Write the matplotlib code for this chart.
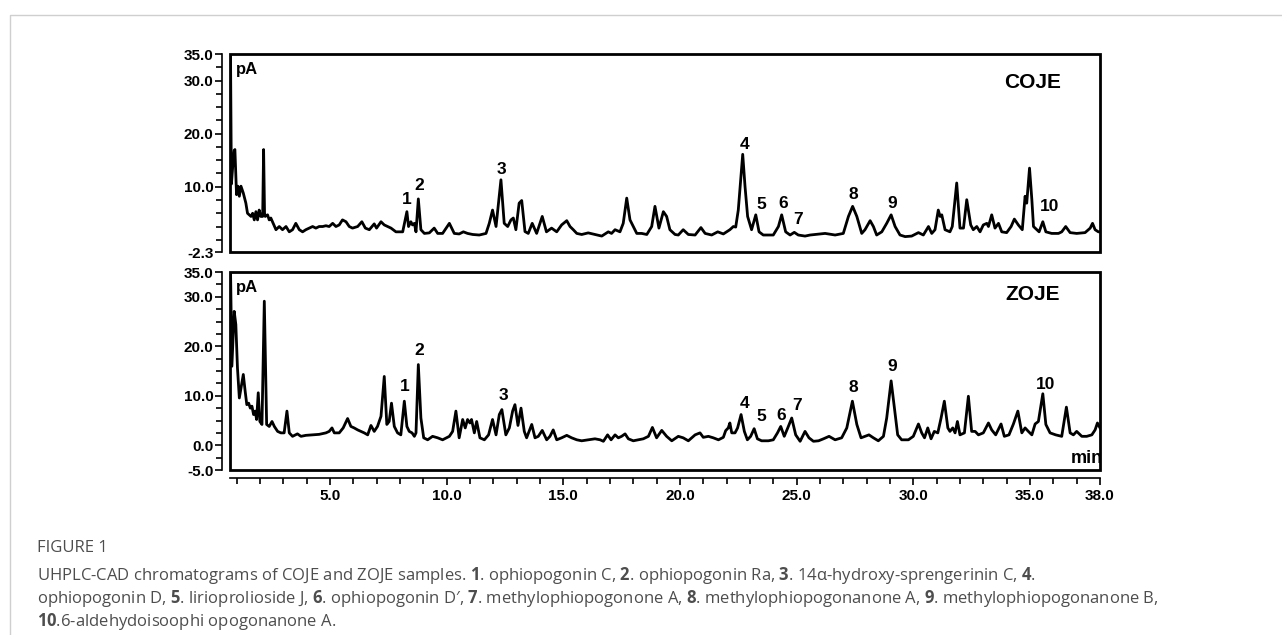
import matplotlib.pyplot as plt
import matplotlib.ticker as mticker
from matplotlib.patches import Rectangle
from matplotlib.lines import Line2D
import numpy as np

plt.rcParams['font.family'] = ['Liberation Sans', 'DejaVu Sans']
plt.rcParams['font.weight'] = 'bold'
plt.rcParams['mathtext.fontset'] = 'custom'
plt.rcParams['mathtext.rm'] = 'Open Sans'
plt.rcParams['mathtext.bf'] = 'Open Sans:bold'

# COJE trace (retention time in min, signal in pA)
coje_t = [0.74, 0.78, 0.84, 0.90, 0.93, 0.97, 1.00, 1.06, 1.12, 1.19, 1.29, 1.40, 1.47,
          1.62, 1.69, 1.76, 1.83, 1.90, 1.97, 2.04, 2.12, 2.16, 2.20, 2.23, 2.33, 2.40,
          2.47, 2.54, 2.69, 2.83, 2.97, 3.12, 3.26, 3.40, 3.54, 3.69, 3.83, 3.97, 4.12,
          4.26, 4.40, 4.54, 4.69, 4.83, 4.97, 5.12, 5.26, 5.40, 5.54, 5.69, 5.83, 5.97,
          6.19, 6.37, 6.52, 6.69, 6.90, 7.00, 7.19, 7.33, 7.47, 7.62, 7.83, 8.12, 8.30,
          8.37, 8.47, 8.54, 8.62, 8.69, 8.79, 8.90, 9.05, 9.26, 9.47, 9.62, 9.83, 10.12,
          10.33, 10.54, 10.72, 10.90, 11.12, 11.40, 11.69, 11.83, 11.97, 12.12, 12.33,
          12.47, 12.62, 12.76, 12.86, 12.97, 13.11, 13.22, 13.36, 13.50, 13.67, 13.86,
          14.10, 14.28, 14.50, 14.72, 14.93, 15.15, 15.29, 15.43, 15.58, 15.79, 16.07,
          16.36, 16.65, 16.93, 17.07, 17.22, 17.43, 17.57, 17.72, 17.86, 18.00, 18.15,
          18.36, 18.58, 18.79, 18.93, 19.10, 19.29, 19.43, 19.57, 19.79, 19.93, 20.14,
          20.36, 20.65, 20.90, 21.08, 21.36, 21.62, 21.86, 22.14, 22.29, 22.39, 22.50,
          22.69, 22.79, 22.90, 23.07, 23.25, 23.39, 23.57, 23.79, 24.00, 24.22, 24.36,
          24.53, 24.72, 24.90, 25.07, 25.36, 25.58, 25.79, 26.22, 26.65, 27.00, 27.22,
          27.40, 27.58, 27.79, 27.93, 28.15, 28.29, 28.43, 28.65, 28.86, 29.05, 29.22,
          29.43, 29.65, 29.93, 30.22, 30.43, 30.65, 30.79, 30.93, 31.07, 31.15, 31.22,
          31.36, 31.57, 31.67, 31.86, 32.00, 32.15, 32.29, 32.46, 32.57, 32.72, 32.86,
          33.00, 33.15, 33.22, 33.36, 33.50, 33.65, 33.79, 34.00, 34.19, 34.33, 34.50,
          34.67, 34.79, 34.86, 34.98, 35.08, 35.15, 35.29, 35.39, 35.55, 35.68, 35.93,
          36.22, 36.36, 36.53, 36.72, 37.00, 37.36, 37.58, 37.68, 37.79, 37.93, 38.00]
coje_pa = [36.5, 10.5, 14.0, 16.8, 17.0, 12.0, 8.5, 10.1, 8.2, 10.1, 8.8, 6.9, 5.0,
           4.4, 5.0, 3.75, 5.3, 3.75, 5.6, 4.4, 4.4, 17.0, 5.0, 4.4, 4.7, 3.75,
           4.1, 3.4, 1.9, 2.5, 1.9, 2.5, 1.5, 1.9, 3.1, 1.9, 1.5, 1.9, 2.2,
           2.5, 2.2, 2.5, 2.5, 2.65, 2.5, 3.1, 2.5, 2.8, 3.75, 3.4, 2.5, 2.2,
           2.5, 3.4, 2.2, 1.9, 3.0, 2.2, 3.4, 2.8, 2.5, 2.2, 1.5, 1.5, 5.3,
           2.5, 3.4, 2.8, 3.1, 1.5, 7.7, 1.9, 1.2, 1.3, 2.2, 1.2, 1.2, 3.1,
           1.2, 1.1, 1.5, 1.2, 1.0, 0.9, 1.2, 3.1, 5.6, 2.5, 11.3,
           3.1, 2.5, 3.75, 4.1, 1.9, 6.9, 7.4, 1.55, 1.2, 3.1, 1.2,
           4.4, 1.5, 2.2, 1.5, 2.8, 3.6, 2.5, 1.9, 1.2, 1.0, 1.3,
           1.0, 0.7, 1.5, 1.2, 1.9, 1.5, 3.1, 7.85, 3.75, 2.5, 1.2,
           1.2, 1.0, 2.5, 6.3, 2.2, 5.3, 4.4, 1.9, 1.0, 0.9, 1.9,
           1.0, 0.9, 2.3, 1.2, 0.9, 1.5, 1.1, 1.9, 2.5, 2.4, 5.6,
           16.1, 10.0, 4.4, 1.9, 4.7, 1.5, 0.9, 0.9, 0.9, 2.5, 4.7,
           1.5, 0.9, 1.4, 0.9, 0.7, 0.9, 1.0, 1.2, 0.9, 1.2, 4.4,
           6.3, 4.4, 1.2, 1.9, 3.6, 2.5, 0.9, 1.5, 3.1, 4.7, 2.5,
           0.9, 0.6, 0.7, 1.35, 0.9, 2.5, 1.2, 1.9, 5.6, 4.4, 4.7,
           1.9, 1.5, 2.5, 10.7, 2.2, 2.2, 7.55, 2.8, 1.9, 2.5, 1.5,
           2.8, 3.1, 2.5, 4.7, 2.2, 3.1, 1.5, 1.35, 2.5, 3.9, 2.8,
           1.9, 8.2, 6.9, 13.5, 7.55, 2.5, 1.9, 1.5, 3.4, 1.5, 1.2,
           1.2, 1.5, 2.5, 1.35, 1.2, 1.35, 2.2, 3.1, 1.9, 1.5, 1.5]

# ZOJE trace
zoje_t = [0.74, 0.80, 0.90, 0.97, 1.04, 1.12, 1.19, 1.29, 1.37, 1.44, 1.52, 1.59, 1.66,
          1.73, 1.80, 1.86, 1.93, 2.00, 2.09, 2.19, 2.29, 2.40, 2.52, 2.62, 2.76, 2.90,
          3.04, 3.16, 3.26, 3.40, 3.61, 3.76, 3.97, 4.26, 4.54, 4.83, 4.97, 5.09, 5.19,
          5.40, 5.57, 5.76, 5.90, 6.04, 6.19, 6.33, 6.47, 6.62, 6.76, 6.90, 7.04, 7.19,
          7.33, 7.44, 7.54, 7.64, 7.76, 7.90, 8.04, 8.19, 8.30, 8.40, 8.52, 8.62, 8.69,
          8.79, 8.90, 9.02, 9.19, 9.40, 9.62, 9.83, 10.12, 10.26, 10.40, 10.54, 10.69,
          10.80, 10.90, 11.00, 11.07, 11.19, 11.29, 11.43, 11.62, 11.80, 11.97, 12.12,
          12.26, 12.37, 12.54, 12.69, 12.83, 12.93, 13.06, 13.19, 13.33, 13.43, 13.65,
          13.79, 13.93, 14.10, 14.29, 14.43, 14.57, 14.72, 14.93, 15.15, 15.36, 15.58,
          15.79, 16.07, 16.36, 16.58, 16.72, 16.90, 17.05, 17.22, 17.36, 17.50, 17.65,
          17.79, 18.00, 18.22, 18.43, 18.65, 18.82, 19.00, 19.22, 19.43, 19.65, 19.93,
          20.14, 20.36, 20.65, 20.86, 21.00, 21.22, 21.43, 21.65, 21.86, 21.96, 22.07,
          22.14, 22.22, 22.36, 22.47, 22.62, 22.76, 22.89, 23.03, 23.18, 23.32, 23.50,
          23.79, 24.00, 24.18, 24.32, 24.47, 24.62, 24.79, 24.96, 25.15, 25.36, 25.53,
          25.72, 25.94, 26.15, 26.39, 26.65, 26.93, 27.15, 27.39, 27.58, 27.76, 27.93,
          28.10, 28.29, 28.50, 28.72, 28.86, 29.05, 29.19, 29.33, 29.50, 29.79, 30.00,
          30.22, 30.36, 30.48, 30.62, 30.76, 30.90, 31.05, 31.19, 31.33, 31.48, 31.57,
          31.69, 31.79, 31.89, 32.00, 32.19, 32.36, 32.50, 32.65, 32.79, 33.00, 33.22,
          33.36, 33.53, 33.76, 33.90, 34.10, 34.29, 34.48, 34.65, 34.79, 34.93, 35.08,
          35.22, 35.36, 35.55, 35.68, 35.86, 36.10, 36.36, 36.56, 36.72, 36.86, 37.00,
          37.22, 37.43, 37.65, 37.79, 37.89, 38.00]
zoje_pa = [36.5, 15.95, 27.05, 24.4, 15.6, 9.55, 11.5, 14.3, 10.9, 8.2, 8.5, 7.5, 7.9,
           6.2, 6.9, 5.2, 10.6, 4.8, 4.2, 29.1, 4.2, 3.8, 4.8, 3.8, 2.8, 2.5,
           2.5, 6.9, 2.5, 1.8, 2.3, 1.8, 2.0, 2.1, 2.2, 2.5, 2.8, 3.5, 2.5,
           2.5, 3.5, 5.4, 3.8, 3.5, 3.1, 2.8, 2.5, 2.1, 4.0, 2.8, 3.8, 5.85,
           13.9, 4.2, 4.8, 8.5, 3.8, 2.5, 2.1, 8.9, 3.8, 2.8, 2.5, 1.8, 2.5,
           16.3, 5.5, 1.5, 1.1, 1.8, 1.5, 1.1, 1.8, 2.8, 6.9, 1.5, 5.2,
           3.5, 5.2, 4.5, 5.2, 2.5, 4.8, 1.5, 1.1, 2.1, 5.2, 2.1,
           6.2, 7.2, 2.1, 3.5, 6.9, 8.2, 4.0, 7.5, 2.8, 1.5, 4.2,
           1.5, 1.8, 3.0, 1.1, 1.8, 3.1, 1.1, 1.5, 2.0, 1.5, 1.1,
           0.9, 1.1, 1.3, 1.1, 0.8, 2.1, 1.1, 2.1, 1.5, 1.8, 2.3,
           1.3, 0.9, 1.1, 1.3, 1.8, 3.6, 1.5, 3.0, 1.8, 0.9, 1.8,
           1.5, 0.9, 2.1, 2.5, 1.6, 1.8, 1.5, 1.1, 1.6, 2.95, 3.5,
           4.5, 2.5, 2.5, 3.5, 6.2, 2.8, 1.1, 1.8, 3.35, 1.3, 0.9,
           0.9, 1.1, 2.5, 3.8, 1.8, 3.5, 5.5, 2.1, 0.8, 2.8, 1.5,
           0.8, 0.9, 1.3, 1.8, 1.1, 1.5, 3.5, 8.9, 4.2, 1.5, 1.8,
           2.1, 1.5, 0.9, 1.8, 5.5, 13.0, 7.5, 2.1, 1.1, 1.1, 1.8,
           4.3, 2.5, 1.5, 3.5, 1.3, 2.8, 2.5, 5.5, 8.9, 3.5, 2.8,
           3.5, 2.5, 4.8, 2.1, 2.5, 9.9, 2.8, 2.8, 2.1, 2.5, 4.5,
           3.1, 2.1, 4.3, 1.8, 2.1, 4.3, 6.9, 2.5, 3.5, 2.8, 2.1,
           4.3, 4.8, 10.4, 4.2, 2.5, 2.1, 1.8, 7.7, 2.5, 2.1, 2.8,
           1.8, 1.8, 2.1, 3.1, 4.5, 3.5]

peak_names = ['1', '2', '3', '4', '5', '6', '7', '8', '9', '10']
coje_label_t = [8.29, 8.83, 12.36, 22.76, 23.50, 24.44, 25.07, 27.41, 29.08, 35.86]
coje_label_y = [7.5, 10.2, 13.2, 17.95, 6.6, 6.9, 3.75, 8.5, 6.9, 6.3]
zoje_label_t = [8.22, 8.83, 12.43, 22.79, 23.50, 24.36, 25.01, 27.41, 29.08, 35.65]
zoje_label_y = [11.8, 19.2, 9.95, 8.5, 5.8, 6.1, 8.1, 11.6, 15.9, 12.3]

x_major = [5, 10, 15, 20, 25, 30, 35, 38]
x_major_labels = ['5.0', '10.0', '15.0', '20.0', '25.0', '30.0', '35.0', '38.0']
coje_yticks = [-2.3, 10, 20, 30, 35]
zoje_yticks = [-5, 0, 10, 20, 30, 35]

W, H = 1282, 635
fig = plt.figure(figsize=(W / 100, H / 100), dpi=100)
ax1 = fig.add_axes([230 / W, 1 - 252 / H, 870 / W, 198 / H])
ax2 = fig.add_axes([230 / W, 1 - 470 / H, 870 / W, 198 / H])


def style_panel(ax, yticks, ylim, show_x):
    ax.set_xlim(0.72, 38.0)
    ax.set_ylim(*ylim)
    for s in ['top', 'right', 'bottom', 'left']:
        ax.spines[s].set_visible(False)
    ax.spines['left'].set_visible(True)
    ax.spines['left'].set_position(('outward', 6))
    ax.spines['left'].set_linewidth(1.2)
    ax.add_patch(Rectangle((0, 0), 1, 1, transform=ax.transAxes, fill=False,
                           lw=2.0, ec='black', clip_on=False, zorder=5))
    ax.yaxis.set_major_locator(mticker.FixedLocator(yticks))
    ax.yaxis.set_major_formatter(mticker.FixedFormatter(['%.1f' % v for v in yticks]))
    minors = [v for v in np.arange(-5, 35.1, 2.5) if ylim[0] <= v <= ylim[1] and v not in yticks]
    ax.yaxis.set_minor_locator(mticker.FixedLocator(minors))
    ax.tick_params(axis='y', which='major', length=5, width=1.2, labelsize=11, pad=1)
    ax.tick_params(axis='y', which='minor', length=4, width=1.2)
    if show_x:
        ax.spines['bottom'].set_visible(True)
        ax.spines['bottom'].set_position(('outward', 6))
        ax.spines['bottom'].set_linewidth(1.2)
        ax.xaxis.set_major_locator(mticker.FixedLocator(x_major))
        ax.xaxis.set_major_formatter(mticker.FixedFormatter(x_major_labels))
        ax.xaxis.set_minor_locator(mticker.FixedLocator(range(1, 38)))
        ax.tick_params(axis='x', which='major', length=5, width=1.2, labelsize=11, pad=3)
        ax.tick_params(axis='x', which='minor', length=4, width=1.2)
    else:
        ax.set_xticks([])


ax1.plot(coje_t, coje_pa, color='black', lw=2.0, solid_joinstyle='round')
ax2.plot(zoje_t, zoje_pa, color='black', lw=2.0, solid_joinstyle='round')
style_panel(ax1, coje_yticks, (-2.3, 35), False)
style_panel(ax2, zoje_yticks, (-5, 35), True)

for ax, lt, ly, name, ny in [(ax1, coje_label_t, coje_label_y, 'COJE', 0.855),
                             (ax2, zoje_label_t, zoje_label_y, 'ZOJE', 0.884)]:
    for n, x, y in zip(peak_names, lt, ly):
        ax.text(x, y, n, ha='center', va='center', fontsize=12.5, fontweight='bold')
    ax.text(0.923, ny, name, transform=ax.transAxes, ha='center', va='center',
            fontsize=15, fontweight='bold')
    ax.text(0.007, 0.92, 'pA', transform=ax.transAxes, ha='left', va='center',
            fontsize=12, fontweight='bold')
ax2.text(1.003, 0.06, 'min', transform=ax2.transAxes, ha='right', va='center',
         fontsize=13, fontweight='bold')

# outer frame of the figure panel
fig.add_artist(Line2D([10 / W, 10 / W, 1], [0, 1 - 15 / H, 1 - 15 / H],
                      transform=fig.transFigure, color='#cfcfcf', lw=1))

cap_kw = dict(family=['Open Sans', 'DejaVu Sans'], fontweight='normal', color='#4d4d4d',
              ha='left', va='center')
fig.text(37 / W, 1 - 548 / H, 'FIGURE 1', fontsize=12, **cap_kw)
lines = [
    r'UHPLC-CAD chromatograms of COJE and ZOJE samples. $\mathbf{1}$. ophiopogonin C, '
    r'$\mathbf{2}$. ophiopogonin Ra, $\mathbf{3}$. 14α-hydroxy-sprengerinin C, $\mathbf{4}$.',
    r'ophiopogonin D, $\mathbf{5}$. lirioprolioside J, $\mathbf{6}$. ophiopogonin D′, '
    r'$\mathbf{7}$. methylophiopogonone A, $\mathbf{8}$. methylophiopogonanone A, '
    r'$\mathbf{9}$. methylophiopogonanone B,',
    r'$\mathbf{10}$.6-aldehydoisoophi opogonanone A.',
]
for i, s in enumerate(lines):
    fig.text(37 / W, 1 - (575 + 23.5 * i) / H, s, fontsize=12, **cap_kw)

fig.savefig('out.png', dpi=100)
